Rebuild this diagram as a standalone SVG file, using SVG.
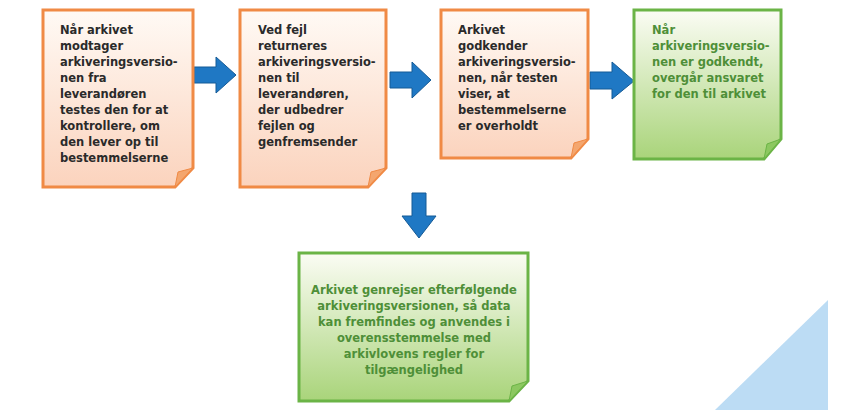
<svg xmlns="http://www.w3.org/2000/svg" width="848" height="410" viewBox="0 0 848 410">
<defs>
<linearGradient id="og" x1="0" y1="0" x2="0" y2="1"><stop offset="0" stop-color="#fffaf5"/><stop offset="1" stop-color="#fbd3bd"/></linearGradient>
<linearGradient id="gg" x1="0" y1="0" x2="0" y2="1"><stop offset="0" stop-color="#fbfcf4"/><stop offset="1" stop-color="#a9d47a"/></linearGradient>
<style>
.o{fill:url(#og);stroke:#f08a45;stroke-width:3}
.g{fill:url(#gg);stroke:#6bb446;stroke-width:3}
.fo{fill:#f4a66e;stroke:#f08a45;stroke-width:1}
.fg{fill:#8cc860;stroke:#6bb446;stroke-width:1}
.t{font-family:"DejaVu Sans",sans-serif;font-weight:bold;font-size:11.5px;fill:#2a2a2a}
.tg{font-family:"DejaVu Sans",sans-serif;font-weight:bold;font-size:11.5px;fill:#4e8f38}
.a{fill:#1f78c4;stroke:#155a96;stroke-width:1}
</style>
</defs>
<polygon points="715,410 828,300 828,410" fill="#bcdcf4"/>
<g id="connectors">
<polygon class="a" points="194,67 216,67 216,57 236,75 216,93 216,83 194,83"/>
<polygon class="a" points="390,72 412,72 412,62 431,80 412,98 412,88 390,88"/>
<polygon class="a" points="590,72 612,72 612,62 634,81 612,99 612,89 590,89"/>
<polygon class="a" points="412,193 426,193 426,216 436,216 419,238 402,216 412,216"/>
</g>
<g id="n1">
<path class="o" d="M43,10 H193 V168 L175,187 H43 Z"/><path class="fo" d="M193,168 L175,187 L178,172 Z"/>
<text class="t" x="60" y="34">Når arkivet<tspan x="60" dy="16">modtager</tspan><tspan x="60" dy="16">arkiveringsversio-</tspan><tspan x="60" dy="16">nen fra</tspan><tspan x="60" dy="16">leverandøren</tspan><tspan x="60" dy="16">testes den for at</tspan><tspan x="60" dy="16">kontrollere, om</tspan><tspan x="60" dy="16">den lever op til</tspan><tspan x="60" dy="16">bestemmelserne</tspan></text>
</g>
<g id="n2">
<path class="o" d="M240,10 H386 V168 L368,187 H240 Z"/><path class="fo" d="M386,168 L368,187 L371,172 Z"/>
<text class="t" x="258" y="34">Ved fejl<tspan x="258" dy="16">returneres</tspan><tspan x="258" dy="16">arkiveringsversio-</tspan><tspan x="258" dy="16">nen til</tspan><tspan x="258" dy="16">leverandøren,</tspan><tspan x="258" dy="16">der udbedrer</tspan><tspan x="258" dy="16">fejlen og</tspan><tspan x="258" dy="16">genfremsender</tspan></text>
</g>
<g id="n3">
<path class="o" d="M441,10 H588 V139 L571,158 H441 Z"/><path class="fo" d="M588,139 L571,158 L574,143 Z"/>
<text class="t" x="458" y="34">Arkivet<tspan x="458" dy="16">godkender</tspan><tspan x="458" dy="16">arkiveringsversio-</tspan><tspan x="458" dy="16">nen, når testen</tspan><tspan x="458" dy="16">viser, at</tspan><tspan x="458" dy="16">bestemmelserne</tspan><tspan x="458" dy="16">er overholdt</tspan></text>
</g>
<g id="n4">
<path class="g" d="M634,10 H781 V139 L764,159 H634 Z"/><path class="fg" d="M781,139 L764,159 L767,144 Z"/>
<text class="tg" x="652" y="34">Når<tspan x="652" dy="16">arkiveringsversio-</tspan><tspan x="652" dy="16">nen er godkendt,</tspan><tspan x="652" dy="16">overgår ansvaret</tspan><tspan x="652" dy="16">for den til arkivet</tspan></text>
</g>
<g id="n5">
<path class="g" d="M299,253 H528 V381 L509,401 H299 Z"/><path class="fg" d="M528,381 L509,401 L512,386 Z"/>
<text class="tg" x="414" y="294" text-anchor="middle">Arkivet genrejser efterfølgende<tspan x="414" dy="16">arkiveringsversionen, så data</tspan><tspan x="414" dy="16">kan fremfindes og anvendes i</tspan><tspan x="414" dy="16">overensstemmelse med</tspan><tspan x="414" dy="16">arkivlovens regler for</tspan><tspan x="414" dy="16">tilgængelighed</tspan></text>
</g>
</svg>
